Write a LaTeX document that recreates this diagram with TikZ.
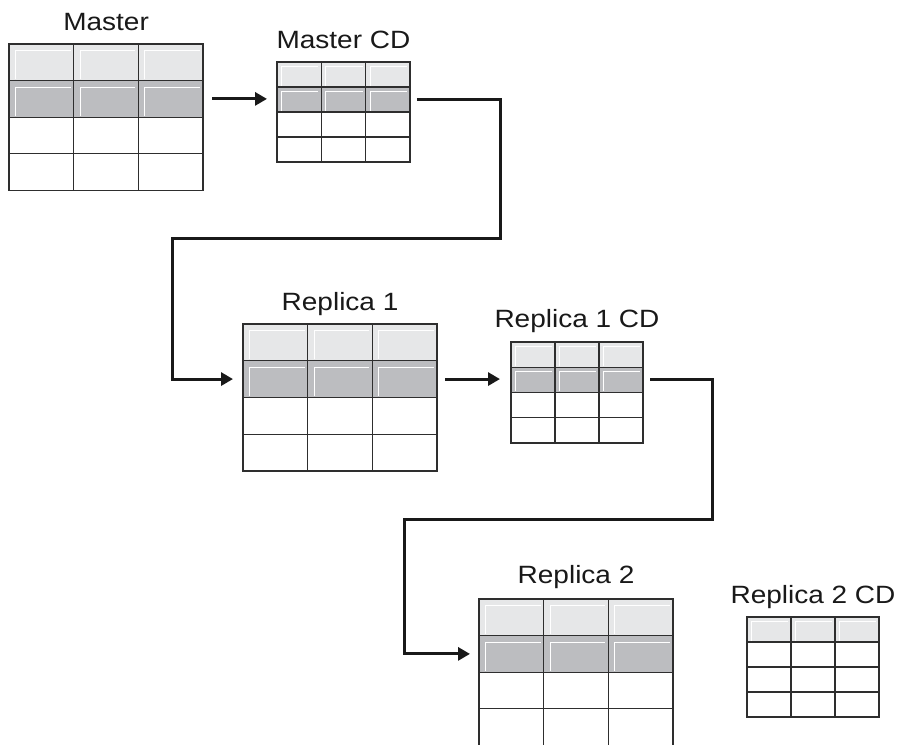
\documentclass[tikz,border=0pt]{standalone}
\usepackage{fontspec}
\setmainfont{Liberation Sans}
\usetikzlibrary{arrows.meta}

\definecolor{rowlight}{HTML}{E6E7E8}
\definecolor{rowdark}{HTML}{BCBDC0}
\definecolor{gridline}{HTML}{2E2E2E}

\tikzset{
    title/.style={font=\fontsize{25}{30}\selectfont, inner sep=0pt, anchor=base, text=black!90},
    shine/.style={white, line width=1pt},
    cellline/.style={gridline, line width=1.2pt},
    frame/.style={gridline, line width=1.7pt},
    link/.style={black!90, line width=3pt, -{Triangle[length=12pt,width=13pt]}},
}

\newcommand{\stretchtext}[1]{\scalebox{1.12}[1]{#1}}

% name, left, top, cell width, cell height, shaded rows
\newcommand{\dbtable}[6]{%
    \begin{scope}[shift={(#2,#3)}]
        \fill[rowlight] (0,0) rectangle ({3*#4},{#5});
        \ifnum#6>1 \fill[rowdark] (0,{#5}) rectangle ({3*#4},{2*#5}); \fi
        \foreach \rr in {1,...,#6}
            \foreach \cc in {1,2,3}
                \draw[shine] ({(\cc-1)*#4+0.1*#4},{\rr*#5-1.5}) |- ({\cc*#4-3},{(\rr-1)*#5+0.18*#5});
        \foreach \cc in {1,2}
            \draw[cellline] ({\cc*#4},0) -- ({\cc*#4},{4*#5});
        \foreach \rr in {1,2,3}
            \draw[cellline] (0,{\rr*#5}) -- ({3*#4},{\rr*#5});
        \draw[frame] (0,0) rectangle ({3*#4},{4*#5});
        \coordinate (#1-n) at ({1.5*#4},0);
        \coordinate (#1-w) at (0,{1.5*#5});
        \coordinate (#1-e) at ({3*#4},{1.5*#5});
    \end{scope}}

\begin{document}
\begin{tikzpicture}[x=1pt, y=-1pt]
    \useasboundingbox (0,0) rectangle (901,744);
    \fill[white] (0,0) rectangle (901,744);

    \dbtable{m}{9}{44}{64.7}{36.6}{2}
    \dbtable{mcd}{277}{62}{44.3}{25}{2}
    \dbtable{r1}{243}{324}{64.7}{36.7}{2}
    \dbtable{r1cd}{511}{342}{44}{25.2}{2}
    \dbtable{r2}{479}{599}{64.7}{36.6}{2}
    \dbtable{r2cd}{747}{617}{44}{25}{1}

    \node[title] (mlab) at ([yshift=14pt]m-n) {\stretchtext{Master}};
    \node[title] (mcdlab) at ([yshift=14pt]mcd-n) {\stretchtext{Master CD}};
    \node[title] (r1lab) at ([yshift=14pt]r1-n) {\stretchtext{Replica 1}};
    \node[title] (r1cdlab) at ([yshift=15pt]r1cd-n) {\stretchtext{Replica 1 CD}};
    \node[title] (r2lab) at ([yshift=16pt]r2-n) {\stretchtext{Replica 2}};
    \node[title] (r2cdlab) at ([yshift=14pt]r2cd-n) {\stretchtext{Replica 2 CD}};

    \coordinate (bendA) at (500,238);
    \coordinate (bendB) at (172,238);
    \coordinate (bendC) at (712,519);
    \coordinate (bendD) at (404,519);

    \draw[link] ([xshift=9pt]m-e) -- ([xshift=-10pt]mcd-w |- m-e);
    \draw[link] ([xshift=7pt]mcd-e) -| (bendA) -- (bendB) |- ([xshift=-10pt]r1-w);
    \draw[link] ([xshift=8pt]r1-e) -- ([xshift=-11pt]r1cd-w |- r1-e);
    \draw[link] ([xshift=7pt]r1cd-e) -| (bendC) -- (bendD) |- ([xshift=-9pt]r2-w);
\end{tikzpicture}
\end{document}
